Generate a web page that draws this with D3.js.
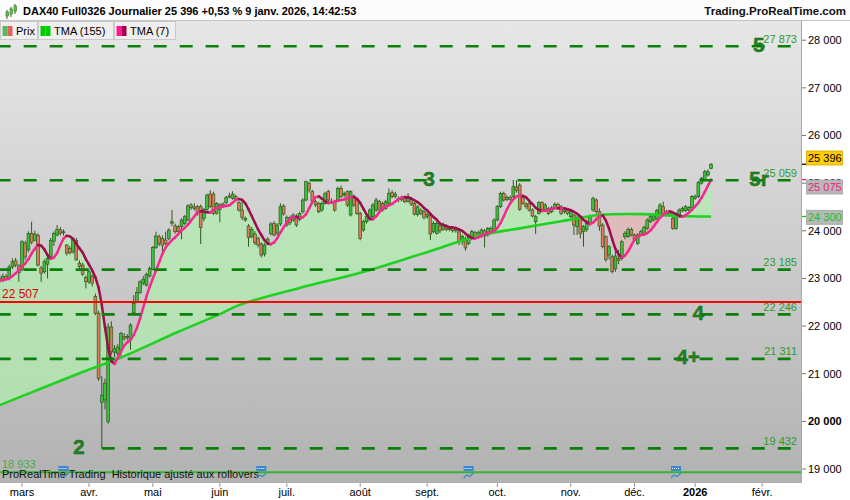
<!DOCTYPE html>
<html>
<head>
<meta charset="utf-8">
<script src="https://cdn.jsdelivr.net/npm/d3@7/dist/d3.min.js"></script>
<style>
  html, body { margin: 0; padding: 0; background: #fff; }
  svg { display: block; font-family: "Liberation Sans", Arial, sans-serif; }
</style>
</head>
<body>
<svg id="chart" width="850" height="500"></svg>
<script>
// ── Data ────────────────────────────────────────────
const opens = [
  23000,22960,23040,23000,23240,23370,23260,23180,23740,23600, 23946,23800,23900,23220,23140,23300,23450,23780,23910,24020,
  23960,23700,23630,23560,23800,23320,23280,23020,22930,23040, 22620,22270,20400,20450,20000,21980,21450,21430,21500,21780,
  21760,21710,22280,22510,22700,22900,22860,23050,23190,23652, 23876,23840,23806,23841,24160,24100,24086,24086,24156,24226,
  24540,24500,24506,24506,24261,24450,24772,24772,24366,24541, 24520,24590,24710,24680,24716,24590,24436,24261,24100,23876,
  23932,23841,23722,23512,23736,23946,24156,23950,24142,24520, 24121,24270,24226,24310,24240,24401,24646,24996,24821,24611,
  24576,24436,24576,24821,24620,24611,24646,24891,24750,24821, 24331,24730,24646,24366,24016,24191,24261,24296,24436,24611,
  24576,24471,24576,24800,24720,24680,24650,24680,24620,24650, 24576,24340,24430,24400,24300,24331,23980,23946,24100,24030,
  24100,24030,24060,24000,23976,23780,23840,23736,23841,23960, 23900,23890,24000,23911,23960,23981,24226,24506,24786,24660,
  24700,24716,24920,24961,24702,24560,24576,24436,24191,24366, 24590,24450,24471,24400,24486,24556,24506,24400,24436,24296,
  24331,24086,24261,23981,24030,24156,24436,24646,24400,24121, 23876,23490,23456,23200,23420,23421,23876,23876,24030,23911,
  23736,23911,23946,24051,24191,24226,24261,24366,24506,24331, 24331,24261,24051,24296,24420,24422,24436,24485,24681,24716,
  25000,25066,25171,25311
];
const highs = [
  23080,23100,23090,23290,23420,23430,23300,23800,23790,23990, 24190,24000,23950,23260,23400,23480,23850,23990,24120,24080,
  24030,23720,23680,23870,23850,23380,23330,23060,23190,23090, 22680,22320,20950,20900,22060,22100,21600,21620,21880,21850,
  21830,22060,22650,22820,22960,23050,23120,23250,23680,23980, 23920,23900,23980,24050,24436,24150,24120,24260,24330,24560,
  24580,24576,24540,24550,24480,24780,24850,24820,24600,24580, 24600,24730,24800,24830,24760,24620,24646,24300,24140,24080,
  23990,23880,23760,23740,23860,24180,24200,24160,24576,24560, 24320,24320,24370,24350,24400,24680,25052,25030,24860,24650,
  24610,24620,24820,24860,24680,24650,24930,24950,24820,24850, 24850,24760,24680,24400,24230,24330,24470,24580,24690,24650,
  24610,24650,24890,24850,24820,24720,24740,24720,24790,24700, 24610,24540,24470,24440,24400,24360,24200,24200,24140,24170,
  24140,24100,24100,24090,24010,23920,23880,23940,24020,24000, 24000,24050,24040,24080,24090,24260,24540,24820,24820,24750,
  24740,25066,25066,25000,24740,24600,24610,24470,24330,24620, 24620,24580,24500,24520,24600,24590,24540,24480,24480,24430,
  24360,24320,24290,24120,24230,24340,24720,24680,24470,24160, 23900,23700,23500,23640,23600,23800,23990,24070,24070,23940,
  23950,24020,24110,24260,24330,24370,24460,24580,24611,24440, 24420,24300,24330,24470,24510,24540,24520,24750,24760,25050,
  25130,25280,25290,25420
];
const lows = [
  22900,22920,22950,22960,23200,23240,22930,23150,23380,23550, 23720,23780,23250,22930,23100,23000,23420,23680,23880,23900,
  23900,23480,23500,23520,23370,23200,23050,22790,22880,22830, 22230,20850,19432,20250,19950,21400,21350,21380,21360,21700,
  21700,21500,22260,22480,22680,22860,22830,23020,23170,23620, 23680,23560,23700,23800,24100,23940,23900,23820,24120,24200,
  24440,24420,24320,23722,24200,24420,24480,24330,24340,24177, 24480,24560,24680,24650,24630,24400,24226,24190,23666,23840,
  23700,23650,23442,23460,23700,23900,23880,23900,24100,24320, 24080,24120,24190,24080,24200,24360,24620,24800,24600,24500,
  24370,24400,24550,24600,24560,24400,24620,24680,24700,24500, 24300,24500,24330,23800,23980,24150,24220,24260,24400,24400,
  24400,24440,24550,24680,24680,24600,24620,24580,24590,24520, 24320,24300,24330,24240,24250,23806,23950,23920,23950,24000,
  23990,23990,23960,23960,23700,23700,23580,23700,23800,23860, 23860,23850,23650,23880,23930,23950,24200,24480,24610,24620,
  24620,24680,24800,24420,24540,24460,24400,24280,23932,24340, 24420,24420,24330,24370,24450,24450,24330,24360,24330,24260,
  23911,23911,23841,23666,23980,24120,24400,24360,24000,23630, 23350,23400,23106,23140,23300,23380,23820,23850,23880,23770,
  23700,23880,23920,24020,24160,24200,24230,24330,24300,24300, 24300,24020,24020,24270,24390,24390,24410,24460,24650,24690,
  24970,25040,25140,25290
];
const closes = [
  22950,23040,23000,23240,23350,23280,23120,23771,23450,23946, 23760,23930,23280,23110,23350,23420,23800,23946,24030,23950,
  23980,23530,23540,23820,23390,23250,23090,22930,23140,22900, 22270,20900,20550,20800,21980,21460,21520,21560,21846,21740,
  21780,22020,22476,22707,22931,22980,23085,23211,23652,23890, 23736,23700,23736,24016,24190,23980,23981,24226,24296,24520,
  24490,24470,24366,24072,24450,24751,24506,24366,24576,24450, 24560,24702,24730,24770,24666,24436,24282,24226,23862,24030,
  23750,23701,23491,23701,23827,24142,23911,24120,24506,24352, 24282,24170,24331,24121,24366,24646,25031,24856,24632,24541,
  24401,24576,24786,24646,24600,24436,24891,24720,24780,24541, 24821,24541,24366,23841,24191,24296,24436,24541,24646,24436,
  24436,24611,24786,24716,24770,24650,24700,24610,24720,24560, 24352,24500,24366,24282,24340,23932,24150,24156,24000,24120,
  24030,24060,24000,24050,23771,23880,23640,23911,23981,23900, 23960,24016,23890,24051,24051,24226,24506,24786,24646,24700,
  24660,24926,24850,24450,24576,24506,24436,24310,24296,24590, 24450,24540,24366,24480,24556,24480,24366,24440,24366,24400,
  24121,24280,23946,24086,24191,24300,24681,24401,24100,23666, 23400,23666,23141,23470,23380,23771,23946,24030,23911,23806,
  23911,23981,24071,24226,24296,24331,24422,24541,24331,24400, 24380,24051,24296,24436,24470,24506,24485,24716,24716,25010,
  25104,25241,25240,25396
];

// TMA(155): values read at a few bar positions
const tma155Bars = [0, 13, 25, 38, 56, 69, 75, 94, 113, 132, 151, 163, 176, 188, 201, 213, 223];
const tma155Vals = [20340, 20690, 21010, 21340, 21880, 22250, 22440, 22800, 23120, 23510, 23910, 24050, 24200, 24330, 24350, 24310, 24300];

const levels      = [27873, 25059, 23185, 22246, 21311, 19432];
const levelFrom   = [0, 0, 0, 0, 0, 32];
const waveTexts   = ['5', '5r', '3', '4', '4+', '2'];
const waveLevels  = [27873, 25059, 25059, 22246, 21311, 19432];
const waveBars    = [238, 238, 134.6, 219, 215.8, 24.8];

const redLevel   = 22507;
const greenLevel = 18933;

const yTicks      = [19000, 20000, 21000, 22000, 23000, 24000, 25000, 26000, 27000, 28000];
const monthLabels = ['mars', 'avr.', 'mai', 'juin', 'juil.', 'août', 'sept.', 'oct.', 'nov.', 'déc.', '2026', 'févr.'];
const monthStarts = ['2025-03-03', '2025-04-01', '2025-05-02', '2025-06-02', '2025-07-01', '2025-08-01',
                     '2025-09-01', '2025-10-01', '2025-11-03', '2025-12-01', '2026-01-02', '2026-02-02'];
const holidays    = ['2025-04-18', '2025-04-21', '2025-05-01', '2025-12-24', '2025-12-25', '2025-12-26', '2025-12-31', '2026-01-01'];
const rollovers   = ['2025-03-20', '2025-06-19', '2025-09-18', '2025-12-18'];

// ── Trading calendar ────────────────────────────────
const days = [];
for (let d = new Date(Date.UTC(2025, 1, 20)); days.length < 260; d.setUTCDate(d.getUTCDate() + 1)) {
  const wd = d.getUTCDay(), s = d.toISOString().slice(0, 10);
  if (wd === 0 || wd === 6 || holidays.includes(s)) continue;
  days.push(s);
}
const barOf = s => days.indexOf(s);

// ── Scales ──────────────────────────────────────────
const PL = 0, PR = 801, PT = 21, PB = 483;
const x = d3.scaleLinear().domain([0, 223]).range([-0.3, 711.1]);
const y = d3.scaleLinear().domain([19000, 28000]).range([469, 40.2]);
const fmt = v => d3.format(',d')(Math.round(v)).replace(/,/g, ' ');

// TMA(7) = SMA4 of SMA4 of the closes
const sma = (arr, n) => arr.map((_, i) => d3.mean(arr.slice(Math.max(0, i - n + 1), i + 1)));
const tma7 = sma(sma(closes, 4), 4);

const svg = d3.select('#chart');
const defs = svg.append('defs');

const grad = defs.append('linearGradient').attr('id', 'bg').attr('x1', 0).attr('y1', 0).attr('x2', 0).attr('y2', 1);
grad.append('stop').attr('offset', '0%').attr('stop-color', '#e7e7e7');
grad.append('stop').attr('offset', '100%').attr('stop-color', '#b2b2b2');

defs.append('clipPath').attr('id', 'plot').append('rect')
  .attr('x', PL).attr('y', PT).attr('width', PR - PL).attr('height', PB - PT);

svg.append('rect').attr('width', 850).attr('height', 500).attr('fill', '#fff');
svg.append('rect').attr('x', PL).attr('y', PT).attr('width', PR - PL).attr('height', PB - PT).attr('fill', 'url(#bg)');

const plot = svg.append('g').attr('clip-path', 'url(#plot)');

// ── Fill between TMA(7) and TMA(155) ─────────────────
const slowPts = tma155Bars.map((b, i) => [x(b), y(tma155Vals[i])]);
const fastPts = tma7.map((v, i) => [x(i), y(v)]);
const slowCurve = d3.line().curve(d3.curveCatmullRom.alpha(0.5));
const straight = d3.line();

const band = straight(fastPts) + 'L' + slowCurve(slowPts.slice().reverse()).slice(1) + 'Z';

const aboveClip = d3.area().curve(d3.curveCatmullRom.alpha(0.5)).x(d => d[0]).y0(0).y1(d => d[1]);
const belowClip = d3.area().curve(d3.curveCatmullRom.alpha(0.5)).x(d => d[0]).y0(d => d[1]).y1(500);
defs.append('clipPath').attr('id', 'above').append('path').attr('d', aboveClip(slowPts));
defs.append('clipPath').attr('id', 'below').append('path').attr('d', belowClip(slowPts));

plot.append('g').attr('clip-path', 'url(#above)').append('path')
  .attr('d', band).attr('fill', 'rgb(175,238,175)').attr('fill-opacity', 0.7);
plot.append('g').attr('clip-path', 'url(#below)').append('path')
  .attr('d', band).attr('fill', 'rgb(232,175,175)').attr('fill-opacity', 0.6);

// ── Candles ─────────────────────────────────────────
const bars = closes.map((c, i) => ({ i, o: opens[i], h: highs[i], l: lows[i], c }));
const gC = plot.append('g');
gC.selectAll('line.wick').data(bars).join('line').attr('class', 'wick')
  .attr('x1', d => x(d.i)).attr('x2', d => x(d.i))
  .attr('y1', d => y(Math.max(d.h, d.o, d.c))).attr('y2', d => y(Math.min(d.l, d.o, d.c)))
  .attr('stroke', '#2a5d1a').attr('stroke-width', 1);
gC.selectAll('rect.body').data(bars).join('rect').attr('class', 'body')
  .attr('x', d => x(d.i) - 1.4).attr('width', 2.8)
  .attr('y', d => y(Math.max(d.o, d.c)))
  .attr('height', d => Math.max(1, Math.abs(y(d.o) - y(d.c))))
  .attr('fill', d => d.c >= d.o ? '#3fbf3f' : '#e8765f')
  .attr('stroke', '#2a5d1a').attr('stroke-width', 0.7);

// ── TMA lines ───────────────────────────────────────
plot.append('path').attr('d', slowCurve(slowPts))
  .attr('fill', 'none').attr('stroke', '#1fd21f').attr('stroke-width', 2.6);

const segs = d3.range(1, tma7.length).map(i => ({ a: i - 1, b: i, up: tma7[i] >= tma7[i - 1] }));
plot.append('g').selectAll('line').data(segs).join('line')
  .attr('x1', d => x(d.a)).attr('y1', d => y(tma7[d.a]))
  .attr('x2', d => x(d.b)).attr('y2', d => y(tma7[d.b]))
  .attr('stroke', d => d.up ? '#f52a8f' : '#9e0d50')
  .attr('stroke-width', 2.5).attr('stroke-linecap', 'round');

// ── Levels ──────────────────────────────────────────
const gL = plot.append('g');
levels.forEach((v, k) => {
  gL.append('line')
    .attr('x1', x(levelFrom[k])).attr('x2', 791).attr('y1', y(v)).attr('y2', y(v))
    .attr('stroke', '#0a800a').attr('stroke-width', 2.6)
    .attr('stroke-dasharray', '13,13').attr('stroke-dashoffset', levelFrom[k] ? 0 : 2);
  gL.append('text')
    .attr('x', 797).attr('y', y(v) - 3.5).attr('text-anchor', 'end')
    .attr('font-size', '11px').attr('fill', '#2f9a2f').text(fmt(v));
});
// vertical tick from the wave-2 low
gL.append('line')
  .attr('x1', x(levelFrom[5])).attr('x2', x(levelFrom[5]))
  .attr('y1', y(lows[levelFrom[5]])).attr('y2', y(levels[5]))
  .attr('stroke', '#0a800a').attr('stroke-width', 1.5);

gL.append('line').attr('x1', PL).attr('x2', PR).attr('y1', y(redLevel)).attr('y2', y(redLevel))
  .attr('stroke', '#ff0000').attr('stroke-width', 2);
gL.append('text').attr('x', 2).attr('y', y(redLevel) - 4).attr('font-size', '12px').attr('fill', '#e00000').text(fmt(redLevel));

gL.append('line').attr('x1', PL).attr('x2', PR).attr('y1', y(greenLevel)).attr('y2', y(greenLevel))
  .attr('stroke', '#35b535').attr('stroke-width', 2);
gL.append('text').attr('x', 2).attr('y', y(greenLevel) - 4.5).attr('font-size', '11px').attr('fill', '#4aaa4a').text(fmt(greenLevel));

// wave labels
waveTexts.forEach((t, k) => {
  gL.append('text')
    .attr('x', x(waveBars[k])).attr('y', y(waveLevels[k]) - 2)
    .attr('dy', '0.36em').attr('text-anchor', 'middle')
    .attr('font-size', '21px').attr('font-weight', 'bold')
    .attr('fill', '#1f821f').attr('stroke', '#146414').attr('stroke-width', 0.4)
    .text(t);
});

// footer note + rollover icons
plot.append('text').attr('x', 2).attr('y', 478).attr('font-size', '11px').attr('fill', '#111')
  .style('white-space', 'pre')
  .text('ProRealTime Trading  Historique ajusté aux rollovers');
rollovers.forEach(s => {
  const cx = x(barOf(s));
  const g = plot.append('g').attr('transform', `translate(${cx - 5},466)`);
  g.append('rect').attr('width', 10).attr('height', 5).attr('fill', '#3b86cf');
  g.append('line').attr('x1', 1).attr('x2', 9).attr('y1', 2.5).attr('y2', 2.5)
    .attr('stroke', '#fff').attr('stroke-width', 1).attr('stroke-dasharray', '1,1');
  g.append('polyline').attr('points', '0,12 3,9 6,10.5 10,7')
    .attr('fill', 'none').attr('stroke', '#3b86cf').attr('stroke-width', 1.2);
});

// ── Right axis ──────────────────────────────────────
svg.append('line').attr('x1', PR + 0.5).attr('x2', PR + 0.5).attr('y1', PT).attr('y2', PB)
  .attr('stroke', '#a8a8a8');
const gY = svg.append('g');
yTicks.forEach(v => {
  gY.append('line').attr('x1', PR + 1).attr('x2', PR + 5).attr('y1', y(v)).attr('y2', y(v)).attr('stroke', '#777');
  gY.append('text').attr('x', 808).attr('y', y(v)).attr('dy', '0.35em')
    .attr('font-size', '11px').attr('font-weight', v === 20000 ? 'bold' : 'normal')
    .attr('fill', '#000').text(fmt(v));
});

// price tags
const tags = [
  { v: closes[closes.length - 1], cy: 158, bg: '#ffcc00', border: '#d4a800', fg: '#000', tick: '#000' },
  { v: tma7[tma7.length - 1],     cy: 187, bg: '#b8b8b8', border: '#a0a0a0', fg: '#ea1f7e', tick: '#ea1f7e' },
  { v: tma155Vals[tma155Vals.length - 1], cy: 217.3, bg: '#b8b8b8', border: '#a0a0a0', fg: '#1fbf1f', tick: '#1fbf1f' }
];
tags.forEach(t => {
  gY.append('line').attr('x1', PR + 1).attr('x2', PR + 5).attr('y1', y(t.v)).attr('y2', y(t.v))
    .attr('stroke', t.tick).attr('stroke-width', 1.3);
  gY.append('rect').attr('x', 806.5).attr('y', t.cy - 7).attr('width', 36).attr('height', 14)
    .attr('fill', t.bg).attr('stroke', t.border).attr('stroke-width', 0.8);
  gY.append('text').attr('x', 808).attr('y', t.cy).attr('dy', '0.36em')
    .attr('font-size', '11px').attr('fill', t.fg).text(fmt(t.v));
});

// ── Bottom axis ─────────────────────────────────────
const gX = svg.append('g');
monthLabels.forEach((lab, k) => {
  const px = x(barOf(monthStarts[k]));
  gX.append('line').attr('x1', px).attr('x2', px).attr('y1', PB).attr('y2', PB + 4).attr('stroke', '#999');
  gX.append('text').attr('x', px).attr('y', 496).attr('text-anchor', 'middle')
    .attr('font-size', '11px').attr('font-weight', lab === '2026' ? 'bold' : 'normal')
    .attr('fill', '#000').text(lab);
});

// ── Header ──────────────────────────────────────────
svg.append('rect').attr('x', 0).attr('y', 0).attr('width', 850).attr('height', 20).attr('fill', '#fcfcfc');
svg.append('line').attr('x1', 0).attr('x2', 850).attr('y1', 20.5).attr('y2', 20.5).attr('stroke', '#c4c4c4');

const icon = svg.append('g').attr('transform', 'translate(5,4)');
[[1, 6, 4], [5, 3, 5], [9, 0, 5]].forEach(([cx, top, h]) => {
  icon.append('line').attr('x1', cx + 1).attr('x2', cx + 1).attr('y1', top).attr('y2', top + h + 5)
    .attr('stroke', '#2a6a1a').attr('stroke-width', 1);
  icon.append('rect').attr('x', cx).attr('y', top + 2).attr('width', 2.4).attr('height', h)
    .attr('fill', '#5fc94f').attr('stroke', '#2a6a1a').attr('stroke-width', 0.6);
});
svg.append('text').attr('x', 23).attr('y', 15).attr('font-size', '11px').attr('font-weight', 'bold')
  .attr('fill', '#000').text('DAX40 Full0326 Journalier 25 396 +0,53 % 9 janv. 2026, 14:42:53');
svg.append('text').attr('x', 846).attr('y', 15).attr('text-anchor', 'end')
  .attr('font-size', '11.5px').attr('font-weight', 'bold').attr('fill', '#111')
  .text('Trading.ProRealTime.com');

// legend boxes
const legend = [
  { label: 'Prix',      x0: 0,   w: 37, cols: ['#5cb85c', '#e06262'] },
  { label: 'TMA (155)', x0: 38,  w: 75, cols: ['#00cc00', '#00cc00'] },
  { label: 'TMA (7)',   x0: 114, w: 61, cols: ['#ff1a8c', '#a0004f'] }
];
legend.forEach(l => {
  const g = svg.append('g').attr('transform', `translate(${l.x0},21)`);
  g.append('rect').attr('x', 0.5).attr('y', 0.5).attr('width', l.w).attr('height', 18)
    .attr('fill', '#efefef').attr('stroke', '#c9c9c9');
  g.append('rect').attr('x', 2.5).attr('y', 5).attr('width', 5).attr('height', 10).attr('fill', l.cols[0]);
  g.append('rect').attr('x', 7.5).attr('y', 5).attr('width', 5).attr('height', 10).attr('fill', l.cols[1]);
  g.append('text').attr('x', 16).attr('y', 13.5).attr('font-size', '11px').attr('fill', '#000').text(l.label);
});
</script>
</body>
</html>
